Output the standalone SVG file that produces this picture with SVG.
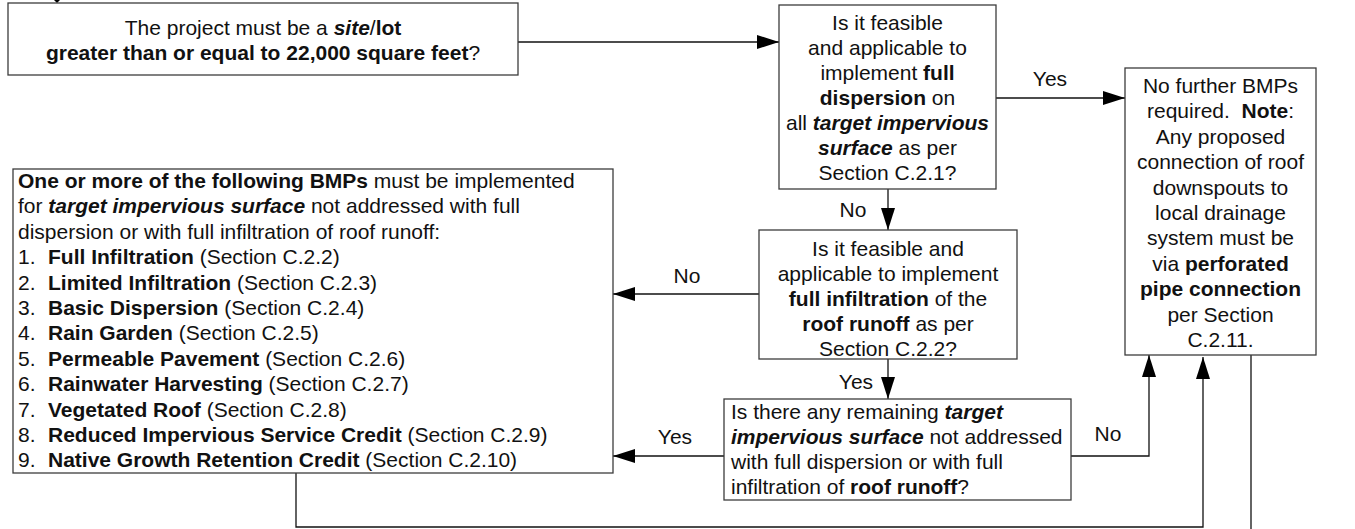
<svg xmlns="http://www.w3.org/2000/svg" width="1355" height="529" viewBox="0 0 1355 529">
  <style>
    .box { fill: #ffffff; stroke: #3c3c3c; stroke-width: 1.3; }
    .t { font-family: "Liberation Sans", Arial, Helvetica, sans-serif; font-size: 21px; fill: #111111; }
    .c { text-anchor: middle; }
    .b { font-weight: bold; }
    .bi { font-weight: bold; font-style: italic; }
    .conn { fill: none; stroke: #111111; stroke-width: 1.3; }
    .pre { white-space: pre; }
  </style>
  <defs>
    <marker id="ah" markerWidth="22" markerHeight="14" refX="22" refY="7" orient="auto" markerUnits="userSpaceOnUse">
      <path d="M0,0 L22,7 L0,14 z" fill="#000000"/>
    </marker>
  </defs>

  <rect width="1355" height="529" fill="#ffffff"/>

  <!-- connectors -->
  <g id="connectors">
    <polygon points="54,0 60,0 57,3" fill="#000000"/>
    <path class="conn" d="M518,42 H779" marker-end="url(#ah)"/>
    <path class="conn" d="M996,98 H1125" marker-end="url(#ah)"/>
    <path class="conn" d="M888,189 V230" marker-end="url(#ah)"/>
    <path class="conn" d="M759,294 H613" marker-end="url(#ah)"/>
    <path class="conn" d="M888,359 V399" marker-end="url(#ah)"/>
    <path class="conn" d="M724,456 H613" marker-end="url(#ah)"/>
    <path class="conn" d="M1071,456 H1149 V355" marker-end="url(#ah)"/>
    <path class="conn" d="M296,473 V527 H1203 V357" marker-end="url(#ah)"/>
    <path class="conn" d="M1251,355 V529"/>
    <text class="t c" x="1050" y="86">Yes</text>
    <text class="t c" x="853" y="217">No</text>
    <text class="t c" x="687" y="283">No</text>
    <text class="t c" x="856" y="389">Yes</text>
    <text class="t c" x="675" y="444">Yes</text>
    <text class="t c" x="1108" y="441">No</text>
  </g>

  <!-- site size question -->
  <g id="site-size">
    <rect class="box" x="8" y="3" width="510" height="72"/>
    <text class="t c" x="263" y="35">The project must be a <tspan class="bi">site</tspan>/<tspan class="b">lot</tspan></text>
    <text class="t c" x="263" y="60"><tspan class="b">greater than or equal to 22,000 square feet</tspan>?</text>
  </g>

  <!-- full dispersion question -->
  <g id="full-dispersion">
    <rect class="box" x="779" y="5" width="217" height="184"/>
    <text class="t c" x="887.5" y="30">Is it feasible</text>
    <text class="t c" x="887.5" y="55">and applicable to</text>
    <text class="t c" x="887.5" y="80">implement <tspan class="b">full</tspan></text>
    <text class="t c" x="887.5" y="105"><tspan class="b">dispersion</tspan> on</text>
    <text class="t c" x="887.5" y="130">all <tspan class="bi">target impervious</tspan></text>
    <text class="t c" x="887.5" y="155"><tspan class="bi">surface</tspan> as per</text>
    <text class="t c" x="887.5" y="180">Section C.2.1?</text>
  </g>

  <!-- no further BMPs -->
  <g id="no-further-bmps">
    <rect class="box" x="1125" y="68" width="191" height="287"/>
    <text class="t c" x="1220.5" y="93">No further BMPs</text>
    <text class="t c pre" x="1220.5" y="118.4">required.  <tspan class="b">Note</tspan>:</text>
    <text class="t c" x="1220.5" y="143.8">Any proposed</text>
    <text class="t c" x="1220.5" y="169.2">connection of roof</text>
    <text class="t c" x="1220.5" y="194.6">downspouts to</text>
    <text class="t c" x="1220.5" y="220">local drainage</text>
    <text class="t c" x="1220.5" y="245.4">system must be</text>
    <text class="t c" x="1220.5" y="270.8">via <tspan class="b">perforated</tspan></text>
    <text class="t c b" x="1220.5" y="296.2">pipe connection</text>
    <text class="t c" x="1220.5" y="321.6">per Section</text>
    <text class="t c" x="1220.5" y="347">C.2.11.</text>
  </g>

  <!-- full infiltration question -->
  <g id="full-infiltration">
    <rect class="box" x="759" y="230" width="258" height="129"/>
    <text class="t c" x="888" y="256">Is it feasible and</text>
    <text class="t c" x="888" y="281">applicable to implement</text>
    <text class="t c" x="888" y="306"><tspan class="b">full infiltration</tspan> of the</text>
    <text class="t c" x="888" y="331"><tspan class="b">roof runoff</tspan> as per</text>
    <text class="t c" x="888" y="356">Section C.2.2?</text>
  </g>

  <!-- remaining surface question -->
  <g id="remaining-surface">
    <rect class="box" x="724" y="399" width="347" height="101"/>
    <text class="t" x="731" y="419">Is there any remaining <tspan class="bi">target</tspan></text>
    <text class="t" x="731" y="444"><tspan class="bi">impervious surface</tspan> not addressed</text>
    <text class="t" x="731" y="469">with full dispersion or with full</text>
    <text class="t" x="731" y="494">infiltration of <tspan class="b">roof runoff</tspan>?</text>
  </g>

  <!-- BMP list -->
  <g id="bmp-list">
    <rect class="box" x="13" y="169" width="600" height="304"/>
    <text class="t" x="18" y="188"><tspan class="b">One or more of the following BMPs</tspan> must be implemented</text>
    <text class="t" x="18" y="213.4">for <tspan class="bi">target impervious surface</tspan> not addressed with full</text>
    <text class="t" x="18" y="238.8">dispersion or with full infiltration of roof runoff:</text>
    <text class="t" x="18" y="264.2">1.<tspan x="48" class="b">Full Infiltration</tspan> (Section C.2.2)</text>
    <text class="t" x="18" y="289.6">2.<tspan x="48" class="b">Limited Infiltration</tspan> (Section C.2.3)</text>
    <text class="t" x="18" y="315">3.<tspan x="48" class="b">Basic Dispersion</tspan> (Section C.2.4)</text>
    <text class="t" x="18" y="340.4">4.<tspan x="48" class="b">Rain Garden</tspan> (Section C.2.5)</text>
    <text class="t" x="18" y="365.8">5.<tspan x="48" class="b">Permeable Pavement</tspan> (Section C.2.6)</text>
    <text class="t" x="18" y="391.2">6.<tspan x="48" class="b">Rainwater Harvesting</tspan> (Section C.2.7)</text>
    <text class="t" x="18" y="416.6">7.<tspan x="48" class="b">Vegetated Roof</tspan> (Section C.2.8)</text>
    <text class="t" x="18" y="442">8.<tspan x="48" class="b">Reduced Impervious Service Credit</tspan> (Section C.2.9)</text>
    <text class="t" x="18" y="467">9.<tspan x="48" class="b">Native Growth Retention Credit</tspan> (Section C.2.10)</text>
  </g>
</svg>
